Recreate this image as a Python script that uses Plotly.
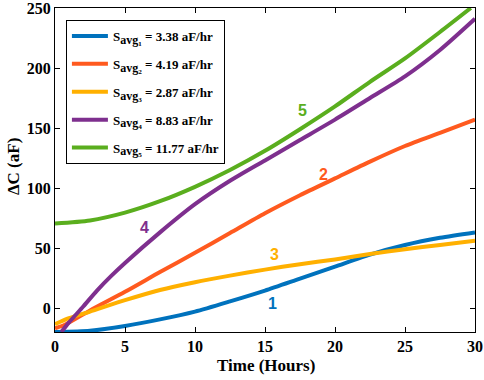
import plotly.graph_objects as go

time_1 = [0, 2.5, 5, 7.5, 10, 12.5, 15, 17.5, 20, 22.5, 25, 27.5, 30]
dc_1 = [-20, -19, -15, -9.5, -3, 5.5, 14.5, 24.5, 34.5, 44.5, 52.5, 58.5, 63]

time_2 = [0, 0.7, 2.5, 5, 7.5, 10, 12.5, 15, 17.5, 20, 22.5, 25, 27.5, 30]
dc_2 = [-17, -14, -2, 13.5, 30, 46, 62.5, 79, 94, 108, 122, 135, 146, 157]

time_3 = [0, 1, 2.5, 5, 7.5, 10, 12.5, 15, 17.5, 20, 22.5, 25, 27.5, 30]
dc_3 = [-13.5, -8.5, -3, 6.5, 15, 21.5, 27, 32, 36.5, 40.5, 45, 49, 52.5, 56]

time_4 = [0.45, 1, 2, 3, 4, 5, 7.5, 10, 12.5, 15, 17.5, 20, 22.5, 25, 27.5, 30]
dc_4 = [-20, -12, 1, 14.5, 26.5, 37.5, 63, 86.5, 106, 123, 140, 157, 175, 193, 215, 241]

time_5 = [0, 2.5, 5, 7.5, 10, 12.5, 15, 17.5, 20, 22.5, 25, 27.5, 29.7]
dc_5 = [70.5, 73, 79.5, 89, 101, 115, 131, 149, 168, 188.5, 208, 230, 250]

names = ["S<sub><span style='font-size:12px'>avg₁</span></sub> = 3.38 aF/hr",
         "S<sub><span style='font-size:12px'>avg₂</span></sub> = 4.19 aF/hr",
         "S<sub><span style='font-size:12px'>avg₃</span></sub> = 2.87 aF/hr",
         "S<sub><span style='font-size:12px'>avg₄</span></sub> = 8.83 aF/hr",
         "S<sub><span style='font-size:12px'>avg₅</span></sub> = 11.77 aF/hr"]
colors = ["#0072BD", "#FF5A1F", "#FFB000", "#7E2F8E", "#5AAE1E"]

curve_labels = ["1", "2", "3", "4", "5"]
label_x = [15.5, 19.2, 15.7, 6.4, 17.7]
label_y = [4, 111, 45, 67, 165]

x_title = "Time (Hours)"
y_title = "ΔC (aF)"

xs = [time_1, time_2, time_3, time_4, time_5]
ys = [dc_1, dc_2, dc_3, dc_4, dc_5]

SERIF = "Liberation Serif"

fig = go.Figure()
for i, (x, y, n, c) in enumerate(zip(xs, ys, names, colors)):
    fig.add_trace(go.Scatter(x=x, y=y, mode="lines", name="<b>" + n + "</b>",
                             legendgroup=str(i),
                             line=dict(color=c, width=4, shape="spline", smoothing=0.7)))

for t, lx, ly, c in zip(curve_labels, label_x, label_y, colors):
    fig.add_annotation(x=lx, y=ly, text="<b>" + t + "</b>", showarrow=False,
                       font=dict(family="Liberation Sans, Arial", size=16, color=c))

fig.add_annotation(x=0.502, y=-0.102, xref="paper", yref="paper",
                   text="<b>" + x_title + "</b>", showarrow=False,
                   xanchor="center", yanchor="middle",
                   font=dict(family=SERIF, size=17, color="black"))
fig.add_annotation(x=-0.1, y=0.509, xref="paper", yref="paper",
                   text="<b>" + y_title + "</b>", showarrow=False, textangle=-90,
                   xanchor="center", yanchor="middle",
                   font=dict(family=SERIF, size=17, color="black"))

axis_common = dict(showline=True, linecolor="black", linewidth=1, mirror="ticks",
                   ticks="inside", ticklen=5, tickcolor="black", showgrid=False,
                   zeroline=False, ticklabeloverflow="allow",
                   tickfont=dict(family=SERIF, size=16, color="black", weight="bold"))

fig.update_xaxes(range=[0, 30], dtick=5, **axis_common)
fig.update_yaxes(range=[-20, 250], tickvals=[0, 50, 100, 150, 200, 250], **axis_common)

fig.update_layout(
    width=484, height=380,
    margin=dict(l=55, r=9, t=8, b=48, autoexpand=False),
    plot_bgcolor="white", paper_bgcolor="white",
    font=dict(family=SERIF, color="black"),
    showlegend=True,
    legend=dict(x=0.026, y=0.963, xanchor="left", yanchor="top",
                bordercolor="black", borderwidth=1, bgcolor="white",
                font=dict(family=SERIF, size=13, color="black"),
                tracegroupgap=8, itemwidth=36),
)

fig.write_html("out.html", config={"displayModeBar": False},
               post_script="document.body.style.margin='0';document.body.style.overflow='hidden';")
